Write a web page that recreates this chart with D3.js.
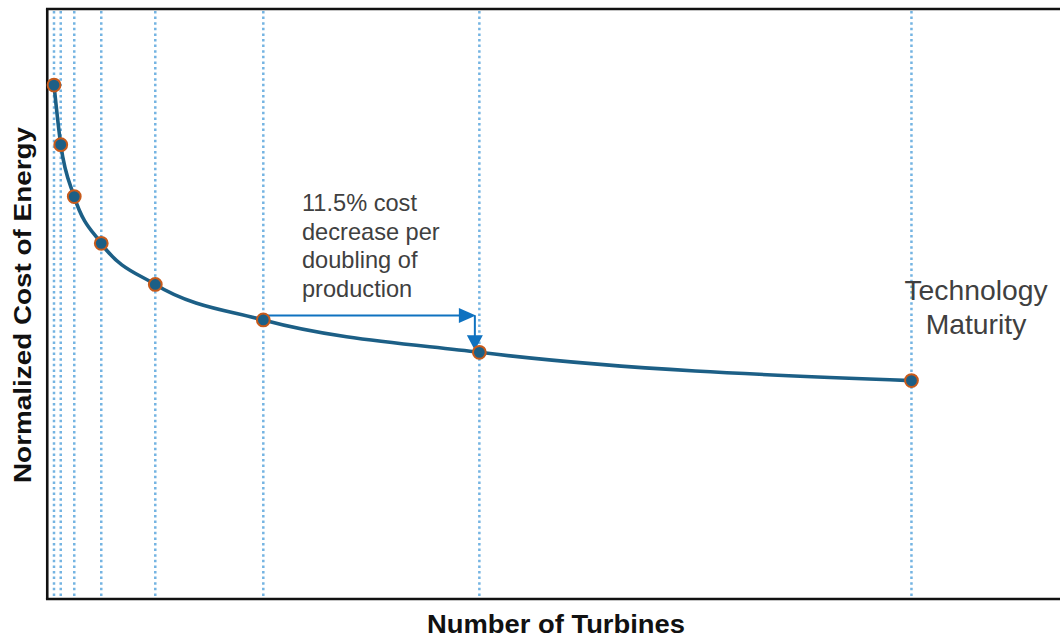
<!DOCTYPE html>
<html>
<head>
<meta charset="utf-8">
<script src="https://cdn.jsdelivr.net/npm/d3@7"></script>
<style>
  html, body { margin: 0; padding: 0; background: #fff; }
  svg { display: block; }
</style>
</head>
<body>
<svg id="chart" width="1060" height="637"></svg>
<script>
// Learning curve: cumulative turbines built vs. normalized cost of energy
const turbines = [1, 2, 4, 8, 16, 32, 64, 128];
const normalizedCost = [1.0, 0.884, 0.783, 0.692, 0.612, 0.543, 0.480, 0.425];
const noteLines = ["11.5% cost", "decrease per", "doubling of", "production"];
const maturityLines = ["Technology", "Maturity"];
const xTitle = "Number of Turbines";
const yTitle = "Normalized Cost of Energy";

const W = 1060, H = 637;
const svg = d3.select("#chart");

const x = d3.scaleLinear().domain([0, 150]).range([47.25, 1060]);
const y = d3.scaleLinear().domain([0, 1.148]).range([599, 9]);

const pts = turbines.map((t, i) => ({ t, c: normalizedCost[i] }));

// vertical dotted guides at each doubling
svg.append("g").selectAll("line").data(pts).join("line")
  .attr("x1", d => x(d.t)).attr("x2", d => x(d.t))
  .attr("y1", y.range()[1] + 2).attr("y2", y.range()[0] - 2)
  .attr("stroke", "#74b4e2")
  .attr("stroke-width", 2.5)
  .attr("stroke-dasharray", "2.5,3.1");

// frame: left, top, bottom
const frame = svg.append("g").attr("stroke", "#111").attr("stroke-width", 2.6).attr("fill", "none");
frame.append("line").attr("x1", x(0)).attr("x2", x(0)).attr("y1", y.range()[1]).attr("y2", y.range()[0]);
frame.append("line").attr("x1", x(0) - 1.3).attr("x2", W).attr("y1", y.range()[1]).attr("y2", y.range()[1]);
frame.append("line").attr("x1", x(0) - 1.3).attr("x2", W).attr("y1", y.range()[0]).attr("y2", y.range()[0]);

// learning curve
const line = d3.line().x(d => x(d.t)).y(d => y(d.c)).curve(d3.curveMonotoneX);
svg.append("path").datum(pts)
  .attr("d", line)
  .attr("fill", "none")
  .attr("stroke", "#1c5f86")
  .attr("stroke-width", 3.6);

// annotation arrows (one doubling step)
const blue = "#0f72c0";
const ax0 = x(turbines[5]), ax1 = x(turbines[6]) - 3.5;
const ay0 = y(normalizedCost[5]) - 4.5, ay1 = y(normalizedCost[6]) - 2;
const arr = svg.append("g");
arr.append("line").attr("x1", ax0).attr("x2", ax1 - 14).attr("y1", ay0).attr("y2", ay0)
  .attr("stroke", blue).attr("stroke-width", 2);
arr.append("path")
  .attr("d", `M${ax1},${ay0} L${ax1 - 17},${ay0 - 7.5} L${ax1 - 17},${ay0 + 7.5} Z`)
  .attr("fill", blue);
arr.append("line").attr("x1", ax1 - 1).attr("x2", ax1 - 1).attr("y1", ay0).attr("y2", ay1 - 12)
  .attr("stroke", blue).attr("stroke-width", 2);
arr.append("path")
  .attr("d", `M${ax1 - 1},${ay1} L${ax1 - 9},${ay1 - 15} L${ax1 + 7},${ay1 - 15} Z`)
  .attr("fill", blue);

// markers
svg.append("g").selectAll("circle").data(pts).join("circle")
  .attr("cx", d => x(d.t)).attr("cy", d => y(d.c))
  .attr("r", 6.4)
  .attr("fill", "#1c5f86")
  .attr("stroke", "#c75a1b")
  .attr("stroke-width", 2);

// note text
svg.append("text")
  .attr("x", 302).attr("y", 211)
  .attr("font-family", "Liberation Sans, Arial, sans-serif")
  .attr("font-size", 23.6)
  .attr("fill", "#404040")
  .selectAll("tspan").data(noteLines).join("tspan")
  .attr("x", 302)
  .attr("dy", (d, i) => i === 0 ? 0 : 28.7)
  .text(d => d);

svg.append("text")
  .attr("x", 976).attr("y", 300)
  .attr("text-anchor", "middle")
  .attr("font-family", "Liberation Sans, Arial, sans-serif")
  .attr("font-size", 28.3)
  .attr("fill", "#404040")
  .selectAll("tspan").data(maturityLines).join("tspan")
  .attr("x", 976)
  .attr("dy", (d, i) => i === 0 ? 0 : 33.5)
  .text(d => d);

// axis titles
svg.append("text")
  .attr("x", 556).attr("y", 633)
  .attr("text-anchor", "middle")
  .attr("font-family", "Liberation Sans, Arial, sans-serif")
  .attr("font-weight", "bold")
  .attr("font-size", 25)
  .attr("fill", "#111")
  .attr("textLength", 258)
  .attr("lengthAdjust", "spacingAndGlyphs")
  .text(xTitle);

svg.append("text")
  .attr("transform", "translate(31,305) rotate(-90)")
  .attr("text-anchor", "middle")
  .attr("font-family", "Liberation Sans, Arial, sans-serif")
  .attr("font-weight", "bold")
  .attr("font-size", 24)
  .attr("fill", "#111")
  .attr("textLength", 356)
  .attr("lengthAdjust", "spacingAndGlyphs")
  .text(yTitle);
</script>
</body>
</html>
